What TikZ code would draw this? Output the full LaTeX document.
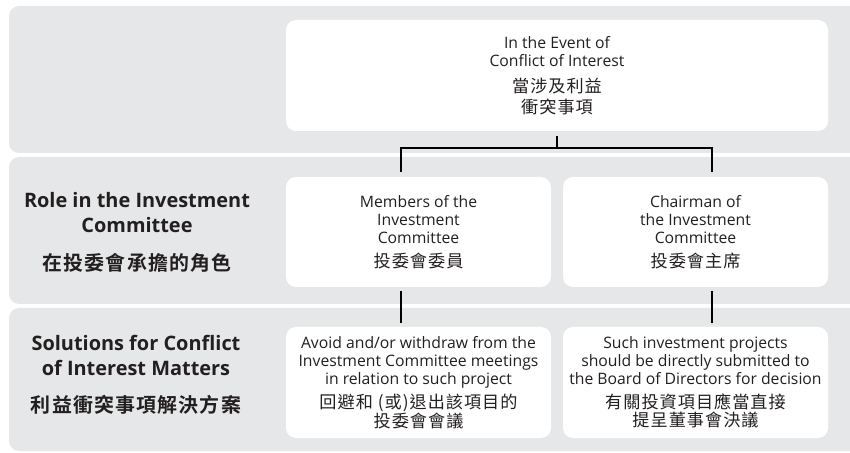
\documentclass[tikz,border=0pt]{standalone}
\usepackage{fontspec}
\setmainfont{Open Sans}
\newfontfamily\cjk[LetterSpace=6, BoldFont={Noto Sans CJK TC Bold}]{Noto Sans CJK TC}
\usetikzlibrary{positioning}

\definecolor{bandgray}{RGB}{230,231,232}
\definecolor{inkgray}{RGB}{35,31,32}

\newcommand{\zhtxt}[1]{{\cjk\fontsize{17.2}{20}\selectfont #1}}
\newcommand{\zhbold}[1]{{\cjk\bfseries\fontsize{20}{24}\selectfont #1}}

\tikzset{
  band/.style={fill=bandgray, rounded corners=10bp},
  card/.style={fill=white, rounded corners=10bp, minimum width=265bp, minimum height=110bp,
               align=center, text=inkgray, font=\fontsize{15.8}{18.2}\selectfont},
  rowlabel/.style={align=center, text=inkgray, font=\fontsize{20}{25}\selectfont\bfseries},
  tree/.style={draw=black, line width=1.4bp}
}

\begin{document}
\begin{tikzpicture}[x=1bp, y=-1bp]
  \useasboundingbox (0,0) rectangle (850,453);
  \clip (0,0) rectangle (850,453);

  % grey rows
  \fill[band] (9,6) rectangle (880,153);
  \fill[band] (9,157) rectangle (880,304);
  \fill[band] (9,308) rectangle (880,451);

  % row labels
  \node[rowlabel] (rolelbl) at (137,232)
       {Role in the Investment\\Committee\\[13bp]\zhbold{在投委會承擔的角色}};
  \node[rowlabel] (solvelbl) at (136,375)
       {Solutions for Conflict\\of Interest Matters\\[12bp]\zhbold{利益衝突事項解決方案}};

  % white boxes
  \node[card, minimum width=542bp, minimum height=111bp] (event) at (557,75.5)
       {In the Event of\\Conflict of Interest\\[8bp]\zhtxt{當涉及利益}\\[2bp]\zhtxt{衝突事項}};
  \node[card] (members) at (418.5,232)
       {Members of the\\Investment\\Committee\\[5bp]\zhtxt{投委會委員}};
  \node[card] (chair) at (695.5,232)
       {Chairman of\\the Investment\\Committee\\[5bp]\zhtxt{投委會主席}};
  \node[card, minimum height=111bp] (avoid) at (418.5,382.5)
       {Avoid and/or withdraw from the\\Investment Committee meetings\\in relation to such project\\[5bp]\zhtxt{回避和 (或)退出該項目的}\\[0.5bp]\zhtxt{投委會會議}};
  \node[card, minimum height=111bp] (submit) at (695.5,382.5)
       {Such investment projects\\should be directly submitted to\\the Board of Directors for decision\\[5bp]\zhtxt{有關投資項目應當直接}\\[0.5bp]\zhtxt{提呈董事會決議}};

  % connectors
  \coordinate (fork) at ([yshift=-17bp]event.south);
  \coordinate (forkL) at ([xshift=-156bp]fork);
  \coordinate (forkR) at ([xshift=155bp]fork);
  \draw[tree, shorten <=5bp] (event.south) -- (fork);
  \draw[tree, shorten <=5bp, shorten >=5bp]
       (forkL |- members.north) -- (forkL) -- (forkR) -- (forkR |- chair.north);
  \draw[tree, shorten <=4bp, shorten >=4bp] (forkL |- members.south) -- (forkL |- avoid.north);
  \draw[tree, shorten <=4bp, shorten >=4bp] (forkR |- chair.south) -- (forkR |- submit.north);
\end{tikzpicture}
\end{document}
